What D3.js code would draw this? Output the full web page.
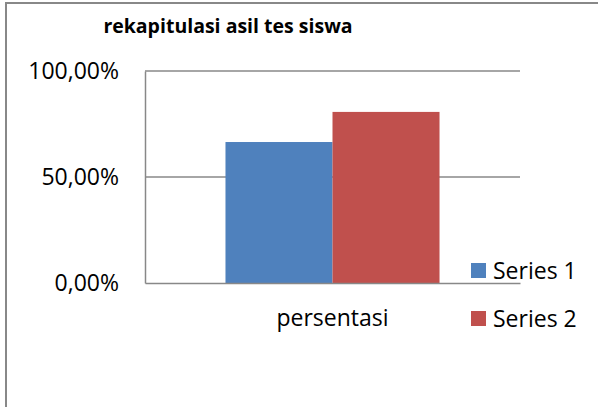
<!DOCTYPE html>
<html>
	<head>
		<meta charset="utf8" />
		<script src="https://cdn.jsdelivr.net/npm/d3@7"></script>
		<style>
			body { margin: 0; background: #fff; }
			text { font-family: "Open Sans", sans-serif; fill: #000; }
		</style>
	</head>
	<body>
		<script>
			var w = 598;
			var h = 407;

			// data
			var categories = ["persentasi"];
			var seriesNames = ["Series 1", "Series 2"];
			var seriesValues = [0.665, 0.807];
			var seriesColors = ["#4f81bd", "#c0504d"];
			var yTicks = [0, 0.5, 1];
			var title = "rekapitulasi asil tes siswa";

			var plotLeft = 145, plotRight = 520, plotTop = 71, plotBottom = 283;
			var fontSize = 23;

			var svg = d3.select("body")
						.append("svg")
						.attr("width", w)
						.attr("height", h);

			// chart frame (only top and left edge are in view)
			svg.append("path")
			   .attr("d", "M6," + h + "V3H" + w)
			   .attr("fill", "none")
			   .attr("stroke", "#888")
			   .attr("stroke-width", 2);

			svg.append("text")
			   .attr("x", 228)
			   .attr("y", 33)
			   .attr("text-anchor", "middle")
			   .attr("font-weight", "bold")
			   .attr("font-size", 19.5)
			   .text(title);

			var y = d3.scaleLinear().domain([0, 1]).range([plotBottom, plotTop]);
			var x0 = d3.scaleBand().domain(categories).range([plotLeft, plotRight]).paddingInner(0).paddingOuter(0.376);
			var x1 = d3.scaleBand().domain(seriesNames).range([0, x0.bandwidth()]);

			var fmt = function(d) { return d3.format(".2f")(d * 100).replace(".", ",") + "%"; };

			// gridlines
			svg.selectAll("line.grid")
			   .data(yTicks.filter(function(d) { return d > 0; }))
			   .enter()
			   .append("line")
			   .attr("class", "grid")
			   .attr("x1", plotLeft)
			   .attr("x2", plotRight)
			   .attr("y1", function(d) { return y(d); })
			   .attr("y2", function(d) { return y(d); })
			   .attr("stroke", "#888")
			   .attr("stroke-width", 1.5);

			var yAxis = svg.append("g")
			   .attr("transform", "translate(" + plotLeft + ",0)")
			   .call(d3.axisLeft(y).tickValues(yTicks).tickSize(0).tickPadding(26).tickFormat(fmt));
			yAxis.select(".domain").attr("stroke", "#888").attr("stroke-width", 1.5);
			yAxis.selectAll("text").attr("font-size", fontSize).attr("font-family", "Open Sans").attr("fill", "#000");

			svg.selectAll("rect.bar")
			   .data(seriesValues)
			   .enter()
			   .append("rect")
			   .attr("class", "bar")
			   .attr("x", function(d, i) { return x0(categories[0]) + x1(seriesNames[i]); })
			   .attr("y", function(d) { return y(d); })
			   .attr("width", x1.bandwidth())
			   .attr("height", function(d) { return plotBottom - y(d); })
			   .attr("fill", function(d, i) { return seriesColors[i]; });

			var xAxis = svg.append("g")
			   .attr("transform", "translate(0," + plotBottom + ")")
			   .call(d3.axisBottom(x0).tickSize(0).tickPadding(27));
			xAxis.select(".domain").attr("stroke", "#888").attr("stroke-width", 1.5);
			xAxis.selectAll("text").attr("font-size", fontSize).attr("font-family", "Open Sans").attr("fill", "#000");

			var legend = svg.selectAll("g.legend")
			   .data(seriesNames)
			   .enter()
			   .append("g")
			   .attr("class", "legend")
			   .attr("transform", function(d, i) { return "translate(471," + (263 + i * 48) + ")"; });
			legend.append("rect")
			   .attr("width", 15)
			   .attr("height", 15)
			   .attr("fill", function(d, i) { return seriesColors[i]; });
			legend.append("text")
			   .attr("x", 22)
			   .attr("y", 16)
			   .attr("font-size", fontSize)
			   .text(function(d) { return d; });
		</script>
	</body>
</html>
